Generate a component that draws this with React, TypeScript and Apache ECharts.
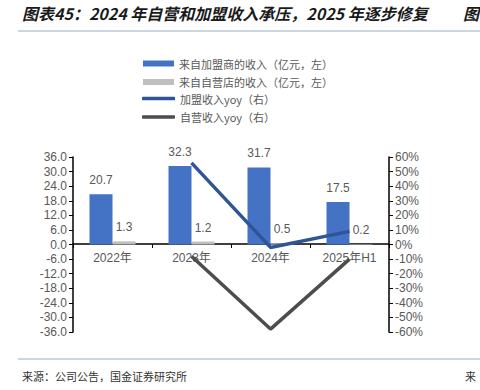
import React, { useEffect, useRef } from "react";
import * as echarts from "echarts";

const categories = ["2022年", "2023年", "2024年", "2025年H1"];
const franchiseRevenue = [20.7, 32.3, 31.7, 17.5];
const selfRevenue = [1.3, 1.2, 0.5, 0.2];
const franchiseYoy = [null, 56, -2, 9];
const selfYoy = [null, -8, -58, -10];
const leftTicks = { min: -36, max: 36, interval: 6 };
const rightTicks = { min: -60, max: 60, interval: 10 };

const seriesNames = [
  "来自加盟商的收入（亿元，左）",
  "来自自营店的收入（亿元，左）",
  "加盟收入yoy（右）",
  "自营收入yoy（右）",
];

const FONT = "'Noto Sans CJK SC', 'Liberation Sans', sans-serif";
const TXT = "#595959";

export default function App() {
  const ref = useRef<HTMLDivElement>(null);
  useEffect(() => {
    const chart = echarts.init(ref.current!, null, { renderer: "svg" });
    const legendText = { color: TXT, fontSize: 11, fontFamily: FONT };
    chart.setOption({
      animation: false,
      backgroundColor: "#ffffff",
      textStyle: { fontFamily: FONT },
      legend: [
        {
          orient: "vertical",
          left: 138,
          top: 53,
          itemWidth: 31,
          itemHeight: 6,
          itemGap: 7.5,
          icon: "rect",
          textStyle: legendText,
          data: [seriesNames[0], seriesNames[1]],
        },
        {
          orient: "vertical",
          left: 137,
          top: 88,
          itemWidth: 33,
          itemHeight: 3.5,
          itemGap: 7.5,
          icon: "roundRect",
          textStyle: legendText,
          data: [seriesNames[2], seriesNames[3]],
        },
      ],
      grid: { left: 73, right: 91, top: 157, bottom: 58 },
      xAxis: {
        type: "category",
        data: categories,
        position: "bottom",
        offset: -88,
        axisLine: { show: true, onZero: false, lineStyle: { color: "#000", width: 1.5 } },
        axisTick: { show: true, length: 4, lineStyle: { color: "#000" } },
        axisLabel: {
          color: TXT,
          fontSize: 12,
          margin: 8,
          fontFamily: "'Liberation Sans', 'Noto Sans CJK SC', sans-serif",
        },
      },
      yAxis: [
        {
          type: "value",
          min: leftTicks.min,
          max: leftTicks.max,
          interval: leftTicks.interval,
          splitLine: { show: false },
          axisLine: { show: true, onZero: false, lineStyle: { color: "#000", width: 1.5 } },
          axisTick: { show: true, length: 4, lineStyle: { color: "#000" } },
          axisLabel: {
            color: TXT,
            fontSize: 12,
            margin: 6,
            fontFamily: "'Liberation Sans', sans-serif",
            formatter: (v: number) => v.toFixed(1),
          },
        },
        {
          type: "value",
          min: rightTicks.min,
          max: rightTicks.max,
          interval: rightTicks.interval,
          splitLine: { show: false },
          axisLine: { show: true, onZero: false, lineStyle: { color: "#000", width: 1.5 } },
          axisTick: { show: true, length: 4, lineStyle: { color: "#000" } },
          axisLabel: {
            color: TXT,
            fontSize: 12,
            margin: 6,
            fontFamily: "'Liberation Sans', sans-serif",
            formatter: (v: number) => `${v}%`,
          },
        },
      ],
      series: [
        {
          name: seriesNames[0],
          type: "bar",
          data: franchiseRevenue,
          barWidth: 23,
          barGap: "0%",
          itemStyle: { color: "#4472C4" },
          label: { show: true, position: "top", distance: 8, color: TXT, fontSize: 12, fontFamily: "'Liberation Sans', sans-serif" },
        },
        {
          name: seriesNames[1],
          type: "bar",
          data: selfRevenue,
          barWidth: 23,
          barGap: "0%",
          itemStyle: { color: "#BFBFBF" },
          label: { show: true, position: "top", distance: 8, color: TXT, fontSize: 12, fontFamily: "'Liberation Sans', sans-serif" },
        },
        {
          name: seriesNames[2],
          type: "line",
          yAxisIndex: 1,
          data: franchiseYoy,
          symbol: "none",
          lineStyle: { color: "#2F5597", width: 3.5 },
          itemStyle: { color: "#2F5597" },
          z: 5,
        },
        {
          name: seriesNames[3],
          type: "line",
          yAxisIndex: 1,
          data: selfYoy,
          symbol: "none",
          lineStyle: { color: "#4D4D4D", width: 3.5 },
          itemStyle: { color: "#4D4D4D" },
          z: 5,
        },
      ],
      graphic: [
        {
          type: "text",
          left: 22,
          top: 5,
          style: {
            text: "图表45：2024 年自营和加盟收入承压，2025 年逐步修复",
            fontSize: 16,
            fontStyle: "italic",
            fontWeight: "bold",
            fill: "#1a1a1a",
            fontFamily: FONT,
          },
        },
        {
          type: "text",
          left: 463,
          top: 5,
          style: {
            text: "图",
            fontSize: 16,
            fontStyle: "italic",
            fontWeight: "bold",
            fill: "#1a1a1a",
            fontFamily: FONT,
          },
        },
        {
          type: "line",
          shape: { x1: 18, y1: 31, x2: 480, y2: 31 },
          style: { stroke: "#B8CAD6", lineWidth: 1.5 },
        },
        {
          type: "line",
          shape: { x1: 18, y1: 359, x2: 480, y2: 359 },
          style: { stroke: "#B8CAD6", lineWidth: 1.5 },
        },
        {
          type: "text",
          left: 22,
          top: 370,
          style: { text: "来源：公司公告，国金证券研究所", fontSize: 11, fill: "#333", fontFamily: FONT },
        },
        {
          type: "text",
          left: 465,
          top: 370,
          style: { text: "来", fontSize: 11, fill: "#333", fontFamily: FONT },
        },
      ],
    });
    return () => chart.dispose();
  }, []);
  return (
    <div
      ref={ref}
      style={{ position: "fixed", left: 0, top: 0, width: 480, height: 390 }}
    />
  );
}
